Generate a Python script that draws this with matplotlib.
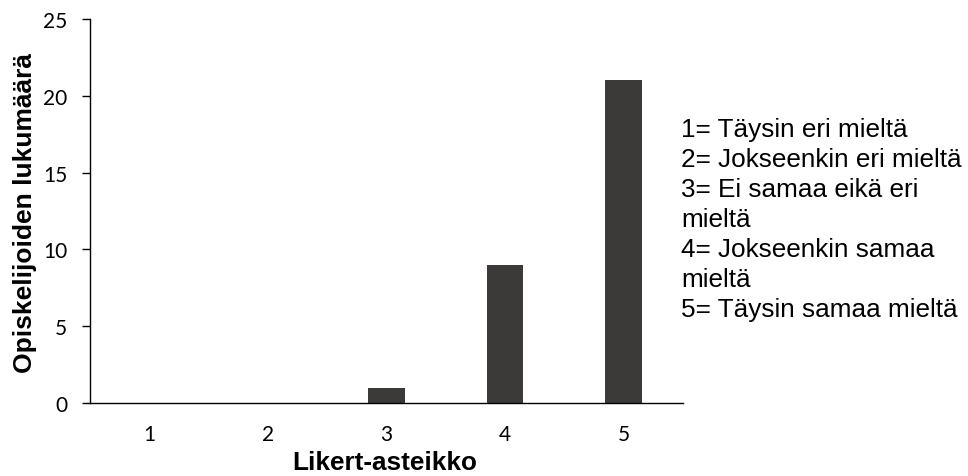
import matplotlib
matplotlib.use("Agg")
import matplotlib.pyplot as plt

categories = ["1", "2", "3", "4", "5"]
values = [0, 0, 1, 9, 21]
yticks = [0, 5, 10, 15, 20, 25]
legend_lines = [
    "1= Täysin eri mieltä",
    "2= Jokseenkin eri mieltä",
    "3= Ei samaa eikä eri",
    "mieltä",
    "4= Jokseenkin samaa",
    "mieltä",
    "5= Täysin samaa mieltä",
]

W, H = 968, 477
fig = plt.figure(figsize=(W/100, H/100), dpi=100)
ax = fig.add_axes([90/W, 1-404/H, 593/W, 384/H])
x = list(range(len(categories)))
ax.bar(x, values, width=0.31, color="#3b3a38")
ax.set_xlim(-0.5, len(categories)-0.5)
ax.set_ylim(0, 25)
ax.set_yticks(yticks)
ax.set_xticks(x)
ax.set_xticklabels(categories)
for s in ["top", "right"]:
    ax.spines[s].set_visible(False)
for s in ["left", "bottom"]:
    ax.spines[s].set_linewidth(1.0)
    ax.spines[s].set_color("black")
ax.tick_params(axis="x", length=0, pad=15, labelsize=15)
ax.tick_params(axis="y", length=5.8, width=1, pad=10.5, labelsize=15, direction="out")
for lab in ax.get_xticklabels() + ax.get_yticklabels():
    lab.set_fontfamily("Lato")
ax.set_xlabel("Likert-asteikko", fontsize=18.8, fontweight="bold",
              fontfamily="Liberation Sans", va="center")
ax.set_ylabel("Opiskelijoiden lukumäärä", fontsize=19, fontweight="bold",
              fontfamily="Liberation Sans", va="center")
ax.xaxis.set_label_coords((385-90)/593, (404-463)/384)
ax.yaxis.set_label_coords((25-90)/593, (404-213)/384)

for i, line in enumerate(legend_lines):
    fig.text(681/W, 1-(137 + i*30)/H, line, fontsize=18.8,
             fontfamily="Liberation Sans", va="baseline", ha="left")

fig.savefig("out.png", dpi=100)
